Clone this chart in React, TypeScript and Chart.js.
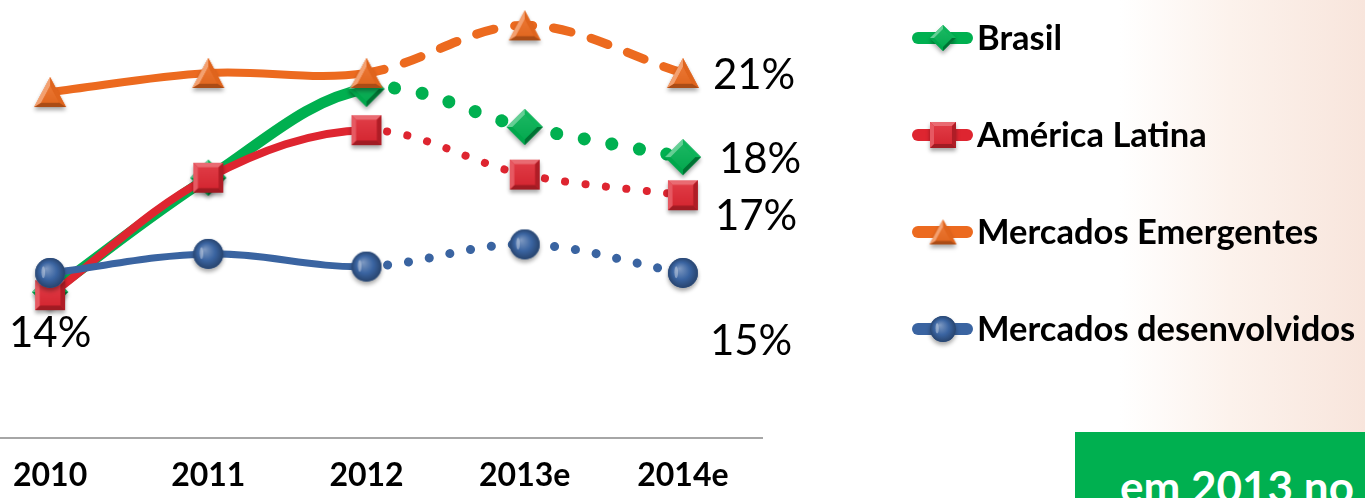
import React, { useEffect, useRef } from "react";
import { Chart, registerables } from "chart.js";

Chart.register(...registerables);

// ---------- data ----------
const categories = ["2010", "2011", "2012", "2013e", "2014e"];
const brasil = [14.1, 17.7, 20.5, 19.3, 18.35];
const americaLatina = [14.0, 17.7, 19.2, 17.8, 17.15];
const mercadosEmergentes = [20.4, 21.0, 21.0, 22.5, 21.0];
const mercadosDesenvolvidos = [14.7, 15.3, 14.9, 15.6, 14.7];
const seriesNames = ["Brasil", "América Latina", "Mercados Emergentes", "Mercados desenvolvidos"];
const projectionFrom = 2; // segments after "2012" are estimates
const calloutText = "em 2013 no";

// ---------- styles ----------
const FONT = "Lato, 'Open Sans', sans-serif";
const SHIFT = 29; // canvas starts left of the page edge (first band is cut off)
const COLORS = ["#00B050", "#DE2530", "#EC6A1F", "#3A64A1"];
const SHAPES = ["diamond", "square", "triangle", "circle"] as const;
const MARKER_SIZE = [[36, 36], [30, 30], [32, 30], [30, 30]];
const LEGEND_MARKER_SIZE = [[26, 26], [26, 26], [27, 25], [26, 26]];
const LINE_WIDTH = [11, 8, 8, 7];
const PROJ_WIDTH = [13, 8, 9, 9];
const PROJ_DASH = [[0.1, 28], [0.1, 20.5], [18, 21], [0.1, 21]];
const DRAW_ORDER = [3, 2, 1, 0];

type Shape = (typeof SHAPES)[number];

function rgb(hex: string) {
  return [parseInt(hex.slice(1, 3), 16), parseInt(hex.slice(3, 5), 16), parseInt(hex.slice(5, 7), 16)];
}
function shade(hex: string, amt: number) {
  const [r, g, b] = rgb(hex);
  const t = amt > 0 ? 255 : 0;
  const p = Math.min(1, Math.abs(amt));
  return `rgb(${Math.round(r + (t - r) * p)},${Math.round(g + (t - g) * p)},${Math.round(b + (t - b) * p)})`;
}

function verts(shape: Shape, w: number, h: number): [number, number][] {
  if (shape === "diamond") return [[0, -h / 2], [w / 2, 0], [0, h / 2], [-w / 2, 0]];
  if (shape === "square") return [[-w / 2, -h / 2], [w / 2, -h / 2], [w / 2, h / 2], [-w / 2, h / 2]];
  return [[0, -h / 2], [w / 2, h / 2], [-w / 2, h / 2]];
}

function makeMarker(shape: Shape, w: number, h: number, color: string): HTMLCanvasElement {
  const pad = 8;
  const c = document.createElement("canvas");
  c.width = w + pad * 2;
  c.height = h + pad * 2;
  const ctx = c.getContext("2d")!;
  ctx.translate(c.width / 2, c.height / 2);
  if (shape === "circle") {
    const r = w / 2;
    ctx.save();
    ctx.shadowColor = "rgba(0,0,0,0.35)";
    ctx.shadowBlur = 4;
    ctx.shadowOffsetY = 3;
    ctx.beginPath();
    ctx.arc(0, 0, r, 0, Math.PI * 2);
    ctx.fillStyle = color;
    ctx.fill();
    ctx.restore();
    const g = ctx.createRadialGradient(-r * 0.25, -r * 0.3, 0, 0, 0, r * 1.05);
    g.addColorStop(0, shade(color, 0.35));
    g.addColorStop(0.55, color);
    g.addColorStop(1, shade(color, -0.35));
    ctx.beginPath();
    ctx.arc(0, 0, r, 0, Math.PI * 2);
    ctx.fillStyle = g;
    ctx.fill();
    ctx.beginPath();
    ctx.ellipse(-r * 0.45, -r * 0.05, r * 0.12, r * 0.4, 0, 0, Math.PI * 2);
    ctx.fillStyle = "rgba(255,255,255,0.35)";
    ctx.fill();
    return c;
  }
  const v = verts(shape, w, h);
  const cx = v.reduce((s, p) => s + p[0], 0) / v.length;
  const cy = v.reduce((s, p) => s + p[1], 0) / v.length;
  const k = shape === "triangle" ? 0.55 : 0.68;
  const inner = v.map(([x, y]) => [cx + (x - cx) * k, cy + (y - cy) * k] as [number, number]);
  const path = (pts: [number, number][]) => {
    ctx.beginPath();
    pts.forEach(([x, y], i) => (i ? ctx.lineTo(x, y) : ctx.moveTo(x, y)));
    ctx.closePath();
  };
  ctx.save();
  ctx.shadowColor = "rgba(0,0,0,0.35)";
  ctx.shadowBlur = 4;
  ctx.shadowOffsetY = 3;
  path(v);
  ctx.fillStyle = color;
  ctx.fill();
  ctx.restore();
  const L = [-0.6, -0.8];
  for (let i = 0; i < v.length; i++) {
    const a = v[i];
    const b = v[(i + 1) % v.length];
    let nx = b[1] - a[1];
    let ny = -(b[0] - a[0]);
    const len = Math.hypot(nx, ny);
    nx /= len;
    ny /= len;
    const mx = (a[0] + b[0]) / 2 - cx;
    const my = (a[1] + b[1]) / 2 - cy;
    if (nx * mx + ny * my < 0) {
      nx = -nx;
      ny = -ny;
    }
    const d = nx * L[0] + ny * L[1];
    path([a, b, inner[(i + 1) % v.length], inner[i]]);
    ctx.fillStyle = shade(color, d > 0 ? d * 0.4 : d * 0.35);
    ctx.fill();
  }
  const g = ctx.createLinearGradient(0, -h / 2, 0, h / 2);
  g.addColorStop(0, shade(color, 0.12));
  g.addColorStop(1, shade(color, -0.05));
  path(inner);
  ctx.fillStyle = g;
  ctx.fill();
  return c;
}

export default function App() {
  const ref = useRef<HTMLCanvasElement | null>(null);

  useEffect(() => {
    const canvas = ref.current;
    if (!canvas) return;
    const seriesData = [brasil, americaLatina, mercadosEmergentes, mercadosDesenvolvidos];
    const markers = SHAPES.map((s, i) => makeMarker(s, MARKER_SIZE[i][0], MARKER_SIZE[i][1], COLORS[i]));
    const legendMarkers = SHAPES.map((s, i) =>
      makeMarker(s, LEGEND_MARKER_SIZE[i][0], LEGEND_MARKER_SIZE[i][1], COLORS[i])
    );

    // value labels: [series, point index, dx, dy, align]
    const valueLabels: [number, number, number, number, CanvasTextAlign][] = [
      [1, 0, 0, 38, "center"],
      [2, 4, 30, 2, "left"],
      [0, 4, 36, 2, "left"],
      [1, 4, 32, 21, "left"],
      [3, 4, 27, 68, "left"],
    ];

    const labelsPlugin = {
      id: "valueLabels",
      afterDatasetsDraw(chart: any) {
        const ctx = chart.ctx;
        ctx.save();
        ctx.fillStyle = "#000";
        ctx.font = `400 42px ${FONT}`;
        ctx.textBaseline = "middle";
        valueLabels.forEach(([s, i, dx, dy, align]) => {
          const meta = chart.getDatasetMeta(s);
          const pt = meta.data[i];
          const val = chart.data.datasets[s].data[i] as number;
          ctx.textAlign = align;
          ctx.fillText(`${Math.round(val)}%`, pt.x + dx, pt.y + dy);
        });
        ctx.restore();
      },
    };

    const legendPlugin = {
      id: "slideLegend",
      afterDraw(chart: any) {
        const ctx = chart.ctx;
        const x0 = 912 + SHIFT;
        const x1 = 973 + SHIFT;
        const xm = 943 + SHIFT;
        const tx = 977 + SHIFT;
        ctx.save();
        chart.data.datasets.forEach((ds: any, i: number) => {
          const y = 38 + i * 97;
          ctx.strokeStyle = COLORS[i];
          ctx.lineWidth = 12;
          ctx.lineCap = "round";
          ctx.beginPath();
          ctx.moveTo(x0 + 6, y);
          ctx.lineTo(x1 - 6, y);
          ctx.stroke();
          const m = legendMarkers[i];
          ctx.drawImage(m, xm - m.width / 2, y - m.height / 2);
          ctx.fillStyle = "#000";
          ctx.font = `700 34.5px ${FONT}`;
          ctx.textAlign = "left";
          ctx.textBaseline = "middle";
          ctx.fillText(ds.label, tx, y + 1);
        });
        ctx.restore();
      },
    };

    const chart = new Chart(canvas, {
      type: "line",
      data: {
        labels: categories,
        datasets: seriesData.map((d, i) => ({
          label: seriesNames[i],
          data: d,
          borderColor: COLORS[i],
          backgroundColor: COLORS[i],
          borderWidth: LINE_WIDTH[i],
          borderCapStyle: "round",
          borderJoinStyle: "round",
          tension: 0.35,
          fill: false,
          pointStyle: markers[i] as any,
          pointRadius: 15,
          pointHoverRadius: 15,
          order: DRAW_ORDER[i],
          clip: false as any,
          segment: {
            borderDash: (c: any) => (c.p0DataIndex >= projectionFrom ? PROJ_DASH[i] : undefined),
            borderWidth: (c: any) => (c.p0DataIndex >= projectionFrom ? PROJ_WIDTH[i] : undefined),
          },
        })),
      },
      options: {
        responsive: false,
        animation: false,
        devicePixelRatio: 1,
        layout: { autoPadding: false, padding: { left: 0, right: 603, top: 0, bottom: 0 } },
        plugins: { legend: { display: false }, tooltip: { enabled: false } },
        events: [],
        scales: {
          x: {
            offset: true,
            grid: { display: false, drawTicks: false },
            border: { display: true, color: "#A6A6A6", width: 2 },
            ticks: {
              color: "#000",
              padding: 18,
              font: { family: FONT, size: 32, weight: "bold" },
              maxRotation: 0,
              autoSkip: false,
            },
            afterFit(scale: any) {
              scale.height = 60;
            },
          },
          y: {
            display: false,
            min: 9.5,
            max: 23.3,
          },
        },
      },
      plugins: [labelsPlugin, legendPlugin],
    } as any);
    return () => chart.destroy();
  }, []);

  return (
    <div
      style={{
        position: "fixed",
        left: 0,
        top: 0,
        width: 1365,
        height: 498,
        overflow: "hidden",
        background:
          "linear-gradient(90deg, #ffffff 0px, #ffffff 1120px, #fcf2ec 1230px, #f8e5dc 1365px)",
        fontFamily: FONT,
      }}
    >
      <canvas
        ref={ref}
        width={1365 + SHIFT}
        height={498}
        style={{ position: "absolute", left: -SHIFT, top: 0, width: 1365 + SHIFT, height: 498 }}
      />
      <div
        style={{
          position: "absolute",
          left: 1075,
          top: 432,
          width: 300,
          height: 70,
          background: "#00B050",
        }}
      >
        <div
          style={{
            position: "absolute",
            left: 45,
            top: 32,
            color: "#fff",
            fontWeight: 700,
            fontSize: 44,
            lineHeight: 1,
            whiteSpace: "nowrap",
          }}
        >
          {calloutText}
        </div>
      </div>
    </div>
  );
}
